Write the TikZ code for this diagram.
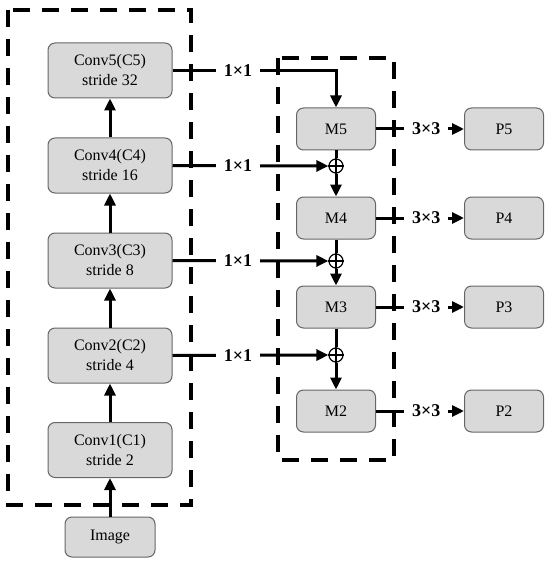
\documentclass[tikz,border=0pt]{standalone}
\usepackage{fontspec}
\setmainfont{Liberation Serif}
\usetikzlibrary{positioning,calc,arrows.meta}

\tikzset{
  blk/.style={rectangle,rounded corners=7pt,draw=black!60,line width=1pt,fill=black!15,
              font=\fontsize{16}{20}\selectfont,align=center,inner sep=0pt},
  convblk/.style={blk,minimum width=124pt,minimum height=55pt},
  mblk/.style={blk,minimum width=79pt,minimum height=42pt},
  imgblk/.style={blk,minimum width=90pt,minimum height=40pt},
  addop/.style={circle,draw,line width=1.2pt,fill=white,minimum size=14pt,inner sep=0pt},
  conn/.style={line width=3pt},
  arr/.style={conn,-{Triangle[length=12pt,width=11pt]}},
  lbl/.style={fill=white,font=\bfseries\fontsize{18}{20}\selectfont,inner xsep=8pt,inner ysep=2pt},
  grp/.style={line width=3.2pt,dash pattern=on 17pt off 12pt}
}

\begin{document}
\begin{tikzpicture}[x=1pt,y=-1pt]
\useasboundingbox (0,0) rectangle (550,564);
% dashed groups
\draw[grp] (8,10) rectangle (191,505);
\draw[grp] (278,58) rectangle (394,460);
% backbone
\node[imgblk] (img) at (110,537) {Image};
\foreach \i/\y/\s in {1/450/2,2/355.5/4,3/260.5/8,4/165.5/16,5/70.5/32} {
    \node[convblk] (c\i) at (110,\y) {Conv\i(C\i)\\stride \s};
}
\draw[arr] (img) -- (c1);
\foreach \i/\j in {1/2,2/3,3/4,4/5} {
    \draw[arr] (c\i) -- (c\j);
}
% top-down path
\foreach \i/\y in {5/129,4/218,3/307,2/411} {
    \node[mblk] (m\i) at (336,\y) {M\i};
    \node[mblk] (p\i) at (504,\y) {P\i};
    \draw[arr] (m\i) -- node[lbl,pos=0.57] {3\texttimes3} (p\i);
}
\foreach \i/\y in {4/166,3/261,2/355} {
    \node[addop] (s\i) at (336,\y) {};
    \draw[line width=1.2pt] (s\i.north) -- (s\i.south) (s\i.west) -- (s\i.east);
}
\draw[arr] (c5.east) -| node[lbl,pos=0.2] {1\texttimes1} (m5.north);
\foreach \i/\u in {4/5,3/4,2/3} {
    \draw[arr] (c\i.east) -- node[lbl,pos=0.42] {1\texttimes1} (s\i.west);
    \draw[conn] (m\u.south) -- (s\i.north);
    \draw[arr] (s\i.south) -- (m\i.north);
}
\end{tikzpicture}
\end{document}
